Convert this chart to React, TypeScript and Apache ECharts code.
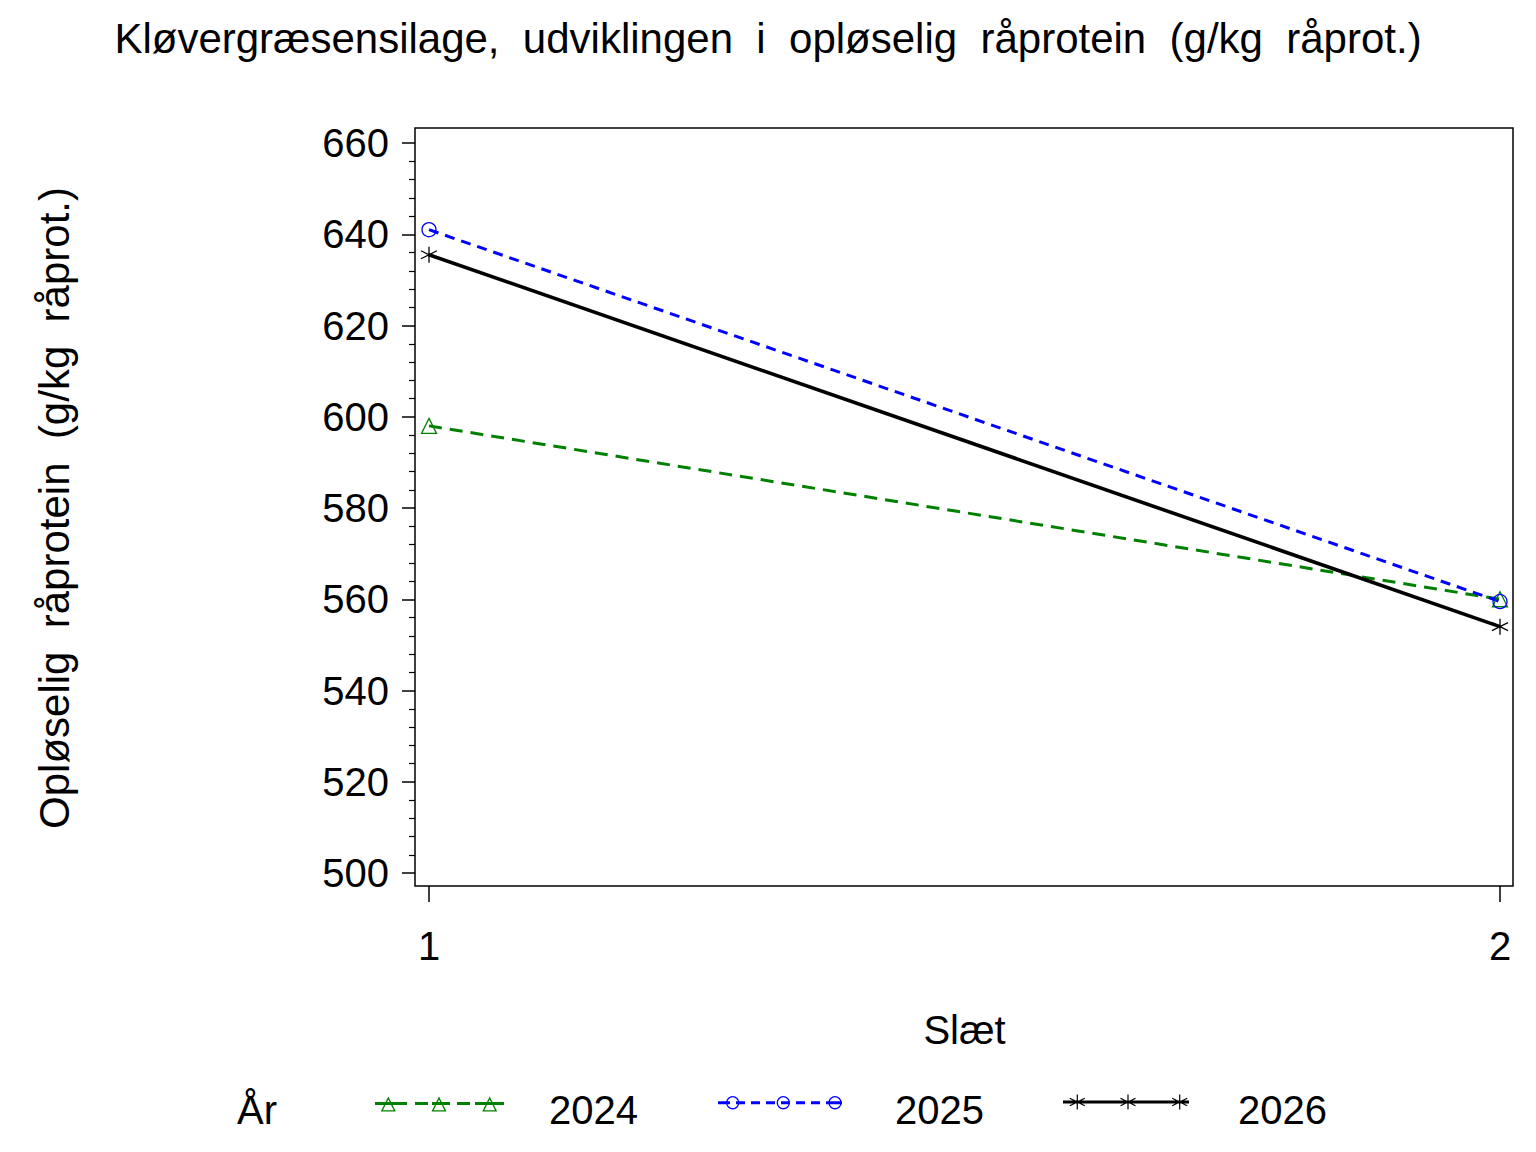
import React, { useEffect, useRef } from "react";
import * as echarts from "echarts";

const slaet = [1, 2];
const years = ["2024", "2025", "2026"];
const v2024 = [598, 560];
const v2025 = [641, 559.5];
const v2026 = [635.5, 554];
const colors = ["#008000", "#0000ff", "#000000"];
const title = "Kløvergræsensilage,  udviklingen  i  opløselig  råprotein  (g/kg  råprot.)";
const yName = "Opløselig  råprotein  (g/kg  råprot.)";
const xName = "Slæt";
const legendTitle = "År";

const FONT = "Liberation Sans, Arial, sans-serif";
const STAR = "path://M0,-10L0,10M-9,-5L9,5M-9,5L9,-5";

// ---- legend icon path helpers (pure styling) ----
const f = (n: number) => n.toFixed(2);
function rectP(x0: number, y0: number, x1: number, y1: number) {
  return `M${f(x0)},${f(y0)}L${f(x1)},${f(y0)}L${f(x1)},${f(y1)}L${f(x0)},${f(y1)}Z`;
}
function segP(x1: number, y1: number, x2: number, y2: number, w: number) {
  const dx = x2 - x1, dy = y2 - y1;
  const len = Math.hypot(dx, dy);
  const nx = (-dy / len) * (w / 2), ny = (dx / len) * (w / 2);
  return `M${f(x1 - nx)},${f(y1 - ny)}L${f(x2 - nx)},${f(y2 - ny)}L${f(x2 + nx)},${f(y2 + ny)}L${f(x1 + nx)},${f(y1 + ny)}Z`;
}
function triRing(cx: number, top: number, w: number, h: number, t: number) {
  const v = [
    [cx, top],
    [cx + w / 2, top + h],
    [cx - w / 2, top + h],
  ];
  const leg = Math.hypot(w / 2, h);
  const r = (w * h) / 2 / ((w + 2 * leg) / 2);
  const ic = [cx, top + h - r];
  const k = (r - t) / r;
  const iv = v.map((p) => [ic[0] + k * (p[0] - ic[0]), ic[1] + k * (p[1] - ic[1])]);
  const outer = `M${f(v[0][0])},${f(v[0][1])}L${f(v[1][0])},${f(v[1][1])}L${f(v[2][0])},${f(v[2][1])}Z`;
  const inner = `M${f(iv[0][0])},${f(iv[0][1])}L${f(iv[2][0])},${f(iv[2][1])}L${f(iv[1][0])},${f(iv[1][1])}Z`;
  return outer + inner;
}
function circRing(cx: number, cy: number, R: number, t: number) {
  const r = R - t;
  const outer = `M${f(cx + R)},${f(cy)}A${R},${R} 0 1 1 ${f(cx - R)},${f(cy)}A${R},${R} 0 1 1 ${f(cx + R)},${f(cy)}Z`;
  const inner = `M${f(cx + r)},${f(cy)}A${r},${r} 0 1 0 ${f(cx - r)},${f(cy)}A${r},${r} 0 1 0 ${f(cx + r)},${f(cy)}Z`;
  return outer + inner;
}
function starP(cx: number, cy: number, hw: number, hh: number, t: number) {
  return (
    segP(cx, cy - hh, cx, cy + hh, t) +
    segP(cx - hw, cy - hh * 0.5, cx + hw, cy + hh * 0.5, t) +
    segP(cx - hw, cy + hh * 0.5, cx + hw, cy - hh * 0.5, t)
  );
}
function dashes(segs: number[][], cy: number, t: number) {
  return segs.map(([a, b]) => rectP(a, cy - t / 2, b, cy + t / 2)).join("");
}
// zero-area point that only extends the icon box downward (keeps text lower than the icon)
function anchor(y: number) {
  return `M0,${f(y)}L0,${f(y)}Z`;
}
const icon2024 =
  "path://" +
  dashes([[0, 32], [40, 53], [57, 75], [82, 95], [100, 129]], 7, 3) +
  [13.3, 64, 114.7].map((c) => triRing(c, 0, 15, 15, 1.3)).join("") +
  anchor(27);
const icon2025 =
  "path://" +
  dashes([[0, 12], [18, 27], [33, 42], [48, 57], [63, 72], [78, 87], [93, 102], [108, 124]], 6.7, 3) +
  [14.7, 65.3, 117].map((c) => circRing(c, 6.7, 6.7, 1.3)).join("") +
  anchor(28);
const icon2026 =
  "path://" +
  rectP(0, 6, 126, 9) +
  [14.3, 65, 116.7].map((c) => starP(c, 7.5, 7.5, 7.5, 1.2)).join("") +
  anchor(31);

export default function App() {
  const ref = useRef<HTMLDivElement>(null);
  useEffect(() => {
    const chart = echarts.init(ref.current!, null, { renderer: "svg" });
    const values = [v2024, v2025, v2026];
    const symbols = ["triangle", "circle", STAR];
    const dashTypes: any[] = [[13, 8], [10, 7], "solid"];
    const widths = [3, 3, 3.6];
    const series = years.map((y, i) => ({
      name: y,
      type: "line",
      data: slaet.map((s, j) => [s, values[i][j]]),
      symbol: symbols[i],
      symbolSize: i === 2 ? 16 : i === 0 ? [15, 15] : 14,
      clip: false,
      lineStyle: { color: colors[i], width: widths[i], type: dashTypes[i] },
      itemStyle: { color: "transparent", borderColor: colors[i], borderWidth: 1.3 },
    }));
    const legendCfg = [
      { left: 375, top: 1090, icon: icon2024, w: 129, h: 27, pad: [0, 0, 0, 40] },
      { left: 718, top: 1090, icon: icon2025, w: 124, h: 28, pad: [0, 0, 0, 48] },
      { left: 1063, top: 1090, icon: icon2026, w: 126, h: 31, pad: [0, 0, 0, 44] },
    ];
    chart.setOption({
      animation: false,
      backgroundColor: "#fff",
      textStyle: { fontFamily: FONT },
      title: {
        text: title,
        left: "center",
        top: 12,
        textStyle: { fontFamily: FONT, fontSize: 42, fontWeight: "normal", color: "#000" },
      },
      grid: { left: 429, top: 143, width: 1071, height: 730 },
      xAxis: {
        type: "value",
        min: 1,
        max: 2,
        interval: 1,
        offset: 13,
        name: xName,
        nameLocation: "middle",
        nameGap: 124,
        nameTextStyle: { fontFamily: FONT, fontSize: 40, color: "#000", verticalAlign: "top" },
        axisLine: { show: false },
        axisTick: { show: true, length: 16, lineStyle: { color: "#000", width: 1.5 } },
        axisLabel: { margin: 40, fontSize: 40, color: "#000", fontFamily: FONT },
        splitLine: { show: false },
      },
      yAxis: {
        type: "value",
        min: 500,
        max: 660,
        interval: 20,
        offset: 14,
        name: yName,
        nameLocation: "middle",
        nameGap: 340,
        nameTextStyle: { fontFamily: FONT, fontSize: 42, color: "#000" },
        axisLine: { show: false },
        axisTick: { show: true, length: 13, lineStyle: { color: "#000", width: 1.5 } },
        minorTick: { show: true, splitNumber: 5, length: 6, lineStyle: { color: "#000", width: 1.2 } },
        axisLabel: { margin: 26, fontSize: 40, color: "#000", fontFamily: FONT },
        splitLine: { show: false },
      },
      legend: years.map((y, i) => ({
        data: [y],
        left: legendCfg[i].left,
        top: legendCfg[i].top,
        padding: 0,
        icon: legendCfg[i].icon,
        symbolKeepAspect: false,
        itemWidth: legendCfg[i].w,
        itemHeight: legendCfg[i].h,
        selectedMode: false,
        itemStyle: { color: colors[i], borderWidth: 0, borderColor: "transparent" },
        textStyle: { fontSize: 40, color: "#000", fontFamily: FONT, padding: legendCfg[i].pad },
      })),
      graphic: [
        {
          type: "rect",
          shape: { x: 415, y: 128, width: 1098, height: 758 },
          style: { fill: "none", stroke: "#000", lineWidth: 1.5 },
          silent: true,
        },
        {
          type: "text",
          left: 237,
          top: 1090,
          style: { text: legendTitle, fontSize: 40, fill: "#000", fontFamily: FONT },
        },
      ],
      series,
    });
    return () => chart.dispose();
  }, []);
  return (
    <div
      ref={ref}
      style={{ position: "fixed", left: 0, top: 0, width: 1536, height: 1152, background: "#fff" }}
    />
  );
}
